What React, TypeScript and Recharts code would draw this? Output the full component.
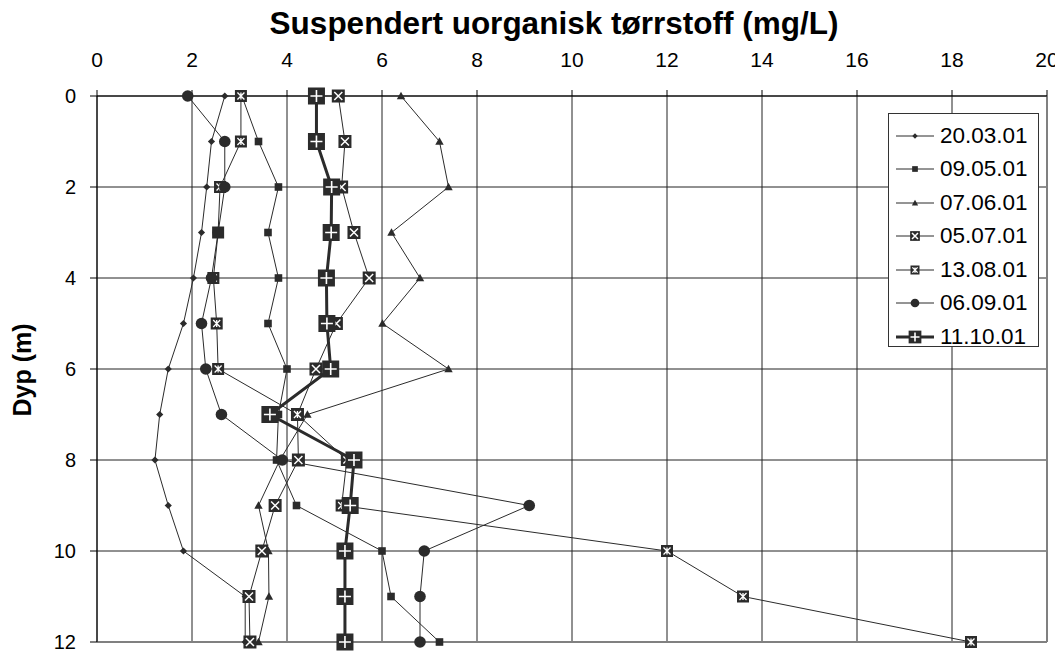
import React from "react";
import {
  CartesianGrid,
  Line,
  LineChart,
  ReferenceLine,
  XAxis,
  YAxis,
} from "recharts";

// dybder (m) og målte verdier (mg/L), lest av figuren
const depths = [0, 1, 2, 3, 4, 5, 6, 7, 8, 9, 10, 11, 12];
const s200301 = [2.69, 2.41, 2.31, 2.2, 2.03, 1.82, 1.5, 1.32, 1.22, 1.5, 1.82, 3.12, 3.12];
const s090501 = [3.05, 3.4, 3.82, 3.6, 3.82, 3.6, 4.0, 3.82, 3.78, 4.2, 6.0, 6.19, 7.21];
const s070601 = [6.4, 7.21, 7.4, 6.2, 6.8, 6.01, 7.4, 4.43, 3.85, 3.4, 3.61, 3.62, 3.4];
const s050701 = [5.08, 5.22, 5.15, 5.41, 5.73, 5.04, 4.61, 4.22, 4.24, 3.75, 3.47, 3.2, 3.22];
const s130801 = [3.03, 3.03, 2.59, 2.55, 2.45, 2.52, 2.55, 4.22, 5.26, 5.15, 12.0, 13.6, 18.4];
const s060901 = [1.91, 2.69, 2.69, 2.55, 2.41, 2.2, 2.29, 2.62, 3.9, 9.1, 6.89, 6.8, 6.8];
const s111001 = [4.62, 4.62, 4.94, 4.93, 4.83, 4.84, 4.92, 3.64, 5.41, 5.33, 5.22, 5.22, 5.22];

const xTicks = [0, 2, 4, 6, 8, 10, 12, 14, 16, 18, 20];
const yTicks = [0, 2, 4, 6, 8, 10, 12];

type Kind = "diamond" | "square" | "triangle" | "xbox" | "star" | "circle" | "plus";

const series: { key: string; name: string; values: number[]; kind: Kind; width: number }[] = [
  { key: "a", name: "20.03.01", values: s200301, kind: "diamond", width: 1 },
  { key: "b", name: "09.05.01", values: s090501, kind: "square", width: 1 },
  { key: "c", name: "07.06.01", values: s070601, kind: "triangle", width: 1 },
  { key: "d", name: "05.07.01", values: s050701, kind: "xbox", width: 1 },
  { key: "e", name: "13.08.01", values: s130801, kind: "star", width: 1 },
  { key: "f", name: "06.09.01", values: s060901, kind: "circle", width: 1 },
  { key: "g", name: "11.10.01", values: s111001, kind: "plus", width: 3 },
];

const data = depths.map((d, i) => {
  const row: Record<string, number> = { depth: d };
  series.forEach((s) => {
    row[s.key] = s.values[i];
  });
  return row;
});

const INK = "#2b2b2b";
const FONT = "'Liberation Sans', Arial, sans-serif";

function Marker({ kind, cx, cy, k = 1 }: { kind: Kind; cx: number; cy: number; k?: number }) {
  switch (kind) {
    case "diamond": {
      const r = 3.6 * k;
      return <polygon points={`${cx},${cy - r} ${cx + r},${cy} ${cx},${cy + r} ${cx - r},${cy}`} fill={INK} />;
    }
    case "square": {
      const h = 3.8 * k;
      return <rect x={cx - h} y={cy - h} width={2 * h} height={2 * h} fill={INK} />;
    }
    case "triangle": {
      const h = 4.2 * k;
      return <polygon points={`${cx},${cy - h} ${cx + h},${cy + h * 0.8} ${cx - h},${cy + h * 0.8}`} fill={INK} />;
    }
    case "circle":
      return <circle cx={cx} cy={cy} r={5.8 * k} fill={INK} />;
    case "xbox": {
      const h = 6.5 * k;
      const a = h - 2.5 * k;
      return (
        <g>
          <rect x={cx - h} y={cy - h} width={2 * h} height={2 * h} fill={INK} />
          <path d={`M${cx - a},${cy - a}L${cx + a},${cy + a}M${cx - a},${cy + a}L${cx + a},${cy - a}`} stroke="#fff" strokeWidth={1.5} />
        </g>
      );
    }
    case "star": {
      const h = 6 * k;
      const a = h - 2.5 * k;
      return (
        <g>
          <rect x={cx - h} y={cy - h} width={2 * h} height={2 * h} fill={INK} />
          <path
            d={`M${cx - a},${cy - a}L${cx + a},${cy + a}M${cx - a},${cy + a}L${cx + a},${cy - a}M${cx},${cy - a}L${cx},${cy + a}`}
            stroke="#fff"
            strokeWidth={1.3}
          />
        </g>
      );
    }
    case "plus": {
      const h = 8.5 * k;
      const a = h - 2.5 * k;
      return (
        <g>
          <rect x={cx - h} y={cy - h} width={2 * h} height={2 * h} fill={INK} />
          <path d={`M${cx - a},${cy}L${cx + a},${cy}M${cx},${cy - a}L${cx},${cy + a}`} stroke="#fff" strokeWidth={1.6} />
        </g>
      );
    }
  }
  return null;
}

function LegendBox() {
  return (
    <div
      style={{
        position: "absolute",
        left: 880,
        top: 105,
        background: "#fff",
        border: "1px solid #333",
        width: 151,
        height: 234,
        boxSizing: "border-box",
        paddingTop: 5,
        fontFamily: FONT,
      }}
    >
      {series.map((s) => (
        <div key={s.key} style={{ display: "flex", alignItems: "center", height: 33.5 }}>
          <svg width={46} height={20} style={{ marginLeft: 5 }}>
            <line x1={2} y1={10} x2={40} y2={10} stroke={INK} strokeWidth={s.width} />
            <Marker kind={s.kind} cx={21} cy={10} k={0.75} />
          </svg>
          <span style={{ fontSize: 22.5, color: "#000" }}>{s.name}</span>
        </div>
      ))}
    </div>
  );
}

export default function App() {
  return (
    <div style={{ position: "relative", width: 1050, height: 645, fontFamily: FONT }}>
      <div
        style={{
          position: "absolute",
          left: 546,
          top: 15,
          transform: "translate(-50%, -50%)",
          fontWeight: "bold",
          fontSize: 31.5,
          whiteSpace: "nowrap",
        }}
      >
        Suspendert uorganisk tørrstoff (mg/L)
      </div>
      <div
        style={{
          position: "absolute",
          left: 14,
          top: 362,
          transform: "translate(-50%, -50%) rotate(-90deg)",
          fontWeight: "bold",
          fontSize: 25,
          whiteSpace: "nowrap",
        }}
      >
        Dyp (m)
      </div>
      <LineChart
        width={1050}
        height={645}
        data={data}
        layout="vertical"
        margin={{ top: 48, right: 11, bottom: 11, left: 0 }}
      >
        <CartesianGrid stroke="#222" strokeWidth={1} />
        <XAxis
          type="number"
          orientation="top"
          domain={[0, 20]}
          ticks={xTicks}
          height={40}
          tickSize={6}
          tickMargin={23}
          axisLine={{ stroke: "#000" }}
          tickLine={{ stroke: "#000" }}
          tick={{ fill: "#000", fontSize: 21, fontFamily: FONT }}
          interval={0}
        />
        <YAxis
          type="number"
          dataKey="depth"
          domain={[0, 12]}
          ticks={yTicks}
          width={89}
          tickSize={7}
          tickMargin={14}
          axisLine={{ stroke: "#000" }}
          tickLine={{ stroke: "#000" }}
          tick={{ fill: "#000", fontSize: 20, fontFamily: FONT }}
          interval={0}
        />
        <ReferenceLine x={20} stroke="#808080" strokeWidth={2} />
        <ReferenceLine y={12} stroke="#808080" strokeWidth={2} />
        {series.map((s) => (
          <Line
            key={s.key}
            dataKey={s.key}
            name={s.name}
            type="linear"
            stroke={INK}
            strokeWidth={s.width}
            isAnimationActive={false}
            dot={(p: any) => <Marker key={`${s.key}-${p.index}`} kind={s.kind} cx={p.cx} cy={p.cy} />}
            activeDot={false}
          />
        ))}
      </LineChart>
      <LegendBox />
    </div>
  );
}
